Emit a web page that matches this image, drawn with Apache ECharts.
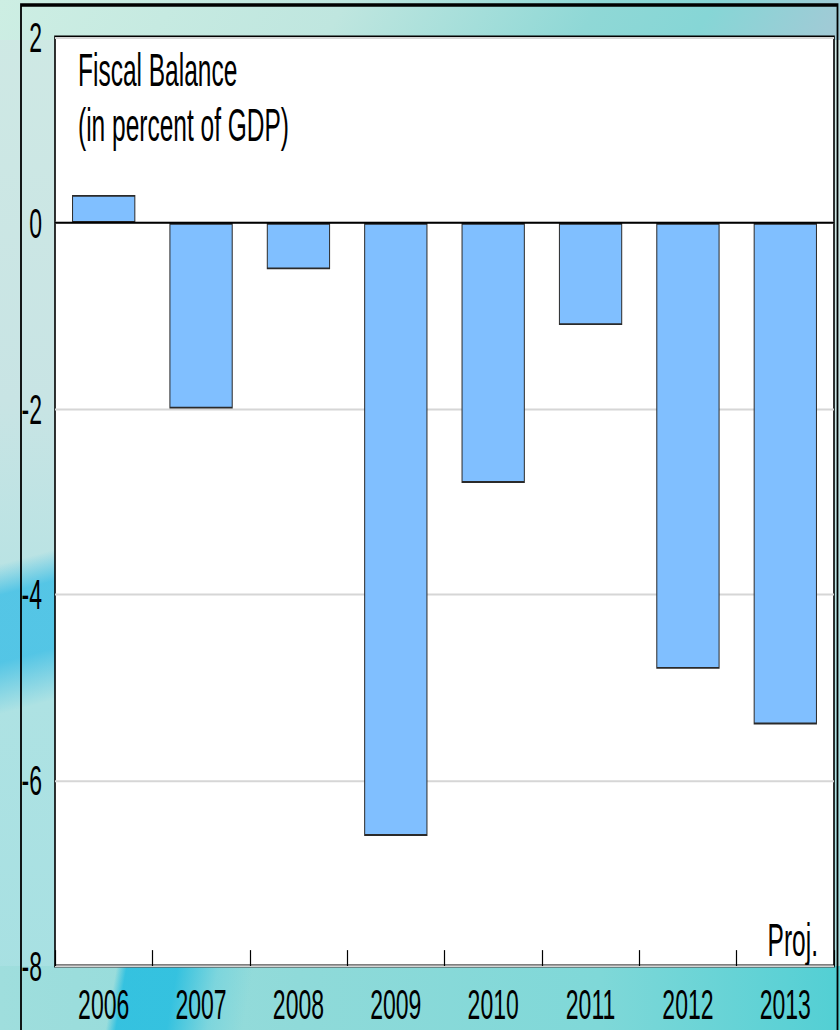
<!DOCTYPE html>
<html>
<head>
<meta charset="utf-8">
<script src="https://cdn.jsdelivr.net/npm/echarts@6/dist/echarts.min.js"></script>
<style>
  html, body { margin: 0; padding: 0; }
  body { width: 840px; height: 1030px; overflow: hidden; }
  #stage {
    position: relative; width: 840px; height: 1030px; overflow: hidden;
    background:
      linear-gradient(100deg, rgba(255,255,255,0) 0px, rgba(255,255,255,0) 115px, rgba(20,185,225,0.75) 125px, rgba(20,185,225,0.75) 175px, rgba(90,205,225,0.4) 215px, rgba(255,255,255,0) 250px) 0 966px / 840px 64px no-repeat,
      linear-gradient(90deg, #9fdedd 0px, #8fdad9 300px, #7fd8d8 600px, #52cfd4 840px) 0 966px / 840px 64px no-repeat,
      linear-gradient(165deg, rgba(255,255,255,0) 0px, rgba(255,255,255,0) 545px, rgba(60,190,230,0.8) 575px, rgba(60,190,230,0.8) 640px, rgba(255,255,255,0) 690px) 0 0 / 55px 1030px no-repeat,
      linear-gradient(120deg, #cdeee3 0px, #bfe6df 300px, #8fd8d6 520px, #86d6d6 620px, #a6c8d6 760px, #9fbcd0 840px) 0 0 / 840px 40px no-repeat,
      linear-gradient(180deg, #cfe9e4 0px, #c8e4e4 400px, #aee2e3 700px, #a6e0e2 1030px);
  }
  #chart {
    position: absolute; left: 0; top: 0; width: 840px; height: 557px;
    transform: scaleY(1.8492); transform-origin: 0 0;
  }
</style>
</head>
<body>
<div id="stage"><div id="chart"></div></div>
<script>
// Fiscal balance, percent of GDP (2013 projected)
const years = ['2006', '2007', '2008', '2009', '2010', '2011', '2012', '2013'];
const balance = [0.3, -2.0, -0.5, -6.6, -2.8, -1.1, -4.8, -5.4];
const yTicks = { min: -8, max: 2, interval: 2 };
const titleLines = ['Fiscal Balance', '(in percent of GDP)'];
const projNote = 'Proj.';

const FONT = "'Liberation Sans', Arial, sans-serif";
const FS = 23;
const FS_TITLE = 24.5;

const chart = echarts.init(document.getElementById('chart'), null, { renderer: 'svg' });

chart.setOption({
  animation: false,
  backgroundColor: 'transparent',
  grid: {
    left: 55, right: 6, top: 20, bottom: 34.6,
    show: true, backgroundColor: '#ffffff', borderColor: '#000000', borderWidth: 1.6,
    containLabel: false
  },
  title: {
    text: titleLines.join('\n'),
    left: 73, top: 18,
    textStyle: { fontFamily: FONT, fontSize: FS_TITLE, fontWeight: 'normal', color: '#000', lineHeight: 30 }
  },
  xAxis: {
    type: 'category',
    data: years,
    boundaryGap: true,
    axisLine: { show: false, onZero: false },
    axisTick: { show: true, inside: true, length: 8.6, lineStyle: { color: '#000', width: 1.2 } },
    axisLabel: { fontFamily: FONT, fontSize: FS, color: '#000', margin: 9 },
    splitLine: { show: false }
  },
  yAxis: {
    type: 'value',
    min: yTicks.min, max: yTicks.max, interval: yTicks.interval,
    axisLine: { show: false },
    axisTick: { show: false },
    axisLabel: { fontFamily: FONT, fontSize: FS, color: '#000', margin: 13, padding: [0, 0, 5, 0] },
    splitLine: { show: true, lineStyle: { color: '#d6d6d6', width: 1.1 } }
  },
  graphic: [
    {
      type: 'rect', silent: true, z: -1,
      shape: { x: 21, y: 2.7, width: 816.5, height: 600 },
      style: { fill: 'none', stroke: '#000', lineWidth: 1.8 }
    },
    {
      type: 'text', silent: true,
      right: 22, top: 496,
      style: { text: projNote, font: FS_TITLE + 'px ' + FONT, fill: '#000' }
    }
  ],
  series: [{
    type: 'bar',
    data: balance,
    barWidth: '65%',
    itemStyle: { color: '#80bfff', borderColor: '#2a2a2a', borderWidth: 1 },
    markLine: {
      silent: true, symbol: 'none', label: { show: false },
      lineStyle: { color: '#000', width: 1.1, type: 'solid' },
      data: [{ yAxis: 0 }]
    }
  }]
});
</script>
</body>
</html>
